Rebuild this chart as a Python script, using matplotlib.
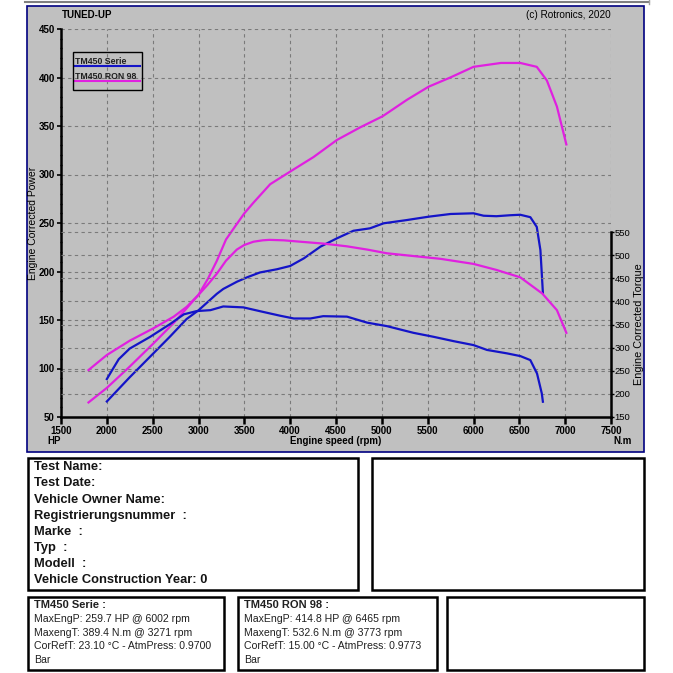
import matplotlib
matplotlib.use("Agg")
import matplotlib.pyplot as plt
from matplotlib.patches import Rectangle
from matplotlib.lines import Line2D
from matplotlib.ticker import MultipleLocator

plt.rcParams['font.family'] = ['Liberation Sans', 'DejaVu Sans']

# ---------------- data ----------------
serie_power_rpm = [2000, 2250, 2470, 2690, 2870, 3000, 3200, 3270, 3420, 3530, 3670, 3855, 4000,
                   4150, 4330, 4510, 4690, 4870, 5020, 5270, 5510, 5750, 6000, 6110, 6250,
                   6400, 6510, 6620, 6690, 6730, 6757]
serie_power_hp = [66, 91, 112, 133, 151, 160, 177, 182, 189.5, 194, 199, 202.3, 205.7,
                  213.6, 225.6, 234.2, 242, 244.5, 249.7, 253, 256.5, 259.3, 260, 257.5, 257,
                  258, 258.5, 256, 246, 222, 178]

serie_torque_rpm = [2000, 2060, 2130, 2250, 2470, 2690, 2840, 2980, 3130, 3270, 3490, 3710, 3890,
                    4040, 4220, 4360, 4620, 4840, 5055, 5345, 5564, 5783, 6000, 6147, 6365,
                    6511, 6620, 6693, 6745, 6757]
serie_torque_nm = [232, 252, 275, 298, 323, 351, 372, 379, 381, 389, 387, 377, 369,
                   363, 363, 368, 367, 354, 346.5, 332, 323.4, 314, 305.5, 295, 287.6,
                   281.7, 273, 244, 201, 183]

ron_power_rpm = [1800, 2000, 2250, 2510, 2730, 2870, 3000, 3100, 3200, 3300, 3418, 3500, 3600,
                 3782, 4000, 4255, 4510, 4764, 5008, 5274, 5510, 5747, 6000, 6300, 6510, 6690,
                 6800, 6910, 7013]
ron_power_hp = [65, 80, 102, 126, 147, 162, 176, 192, 211, 233, 249, 260, 271,
                290, 303, 318, 335.6, 348.6, 360, 377, 390.5, 400, 411, 415, 415, 411,
                397, 370, 331]

ron_torque_rpm = [1800, 2000, 2250, 2510, 2730, 2870, 3000, 3100, 3200, 3300, 3418, 3500, 3600,
                  3700, 3773, 3930, 4110, 4360, 4620, 4840, 5055, 5345, 5640, 6000, 6250, 6510,
                  6750, 6910, 7013]
ron_torque_nm = [251.5, 284, 315, 342, 367, 388, 414, 436, 460, 488, 512, 522, 529,
                 532, 533, 532, 529, 525, 519, 512, 504, 498, 492, 481, 468, 452,
                 417, 381, 332]

series_names = ["TM450 Serie", "TM450 RON 98"]
x_ticks = [1500, 2000, 2500, 3000, 3500, 4000, 4500, 5000, 5500, 6000, 6500, 7000, 7500]
hp_ticks = [50, 100, 150, 200, 250, 300, 350, 400, 450]
nm_ticks = [150, 200, 250, 300, 350, 400, 450, 500, 550]

info_lines = ["Test Name:", "Test Date:", "Vehicle Owner Name:", "Registrierungsnummer  :",
              "Marke  :", "Typ  :", "Modell  :", "Vehicle Construction Year: 0"]
serie_info = ["TM450 Serie :", "MaxEngP: 259.7 HP @ 6002 rpm", "MaxengT: 389.4 N.m @ 3271 rpm",
              "CorRefT: 23.10 \u00b0C - AtmPress: 0.9700", "Bar"]
ron_info = ["TM450 RON 98 :", "MaxEngP: 414.8 HP @ 6465 rpm", "MaxengT: 532.6 N.m @ 3773 rpm",
            "CorRefT: 15.00 \u00b0C - AtmPress: 0.9773", "Bar"]

BLUE = '#1414C8'
MAG = '#E020E0'
W = H = 673.0


def fx(x):
    return x / W


def fy(y):
    return 1 - y / H


fig = plt.figure(figsize=(6.73, 6.73), dpi=100)
fig.patch.set_facecolor('white')

# top thin gray line
fig.add_artist(Line2D([fx(25), fx(649)], [fy(1.5), fy(1.5)], color='#808080', lw=1.5))
fig.add_artist(Line2D([fx(648.5), fx(648.5)], [fy(0), fy(4)], color='#A0A0A0', lw=1))

# chart panel
fig.add_artist(Rectangle((fx(27), fy(452)), fx(644) - fx(27), fy(6) - fy(452),
                         facecolor='#C0C0C0', edgecolor='#000080', lw=1.2, zorder=0))

ax = fig.add_axes([fx(61), fy(417), fx(611) - fx(61), fy(29) - fy(417)])
ax.set_facecolor('none')
ax.set_xlim(1500, 7500)
ax.set_ylim(50, 450)
ax2 = ax.twinx()
nm_top = 150 + 388 * 400 / 185.0
ax2.set_ylim(150, nm_top)
ax2.set_facecolor('none')

# grids
for v in hp_ticks[1:]:
    ax.axhline(v, color='#7a7a7a', lw=0.8, ls=(0, (3, 3)), zorder=1)
for v in nm_ticks[1:]:
    ax2.axhline(v, color='#7a7a7a', lw=0.8, ls=(0, (3, 3)), zorder=1)
for v in x_ticks[1:]:
    ax.axvline(v, color='#7a7a7a', lw=0.8, ls=(0, (3, 3)), zorder=1)

# curves
ax.plot(serie_power_rpm, serie_power_hp, color=BLUE, lw=1.6, zorder=3)
ax.plot(ron_power_rpm, ron_power_hp, color=MAG, lw=1.6, zorder=3)
ax2.plot(serie_torque_rpm, serie_torque_nm, color=BLUE, lw=1.6, zorder=3)
ax2.plot(ron_torque_rpm, ron_torque_nm, color=MAG, lw=1.6, zorder=3)

# spines
for s in ['top', 'right']:
    ax.spines[s].set_visible(False)
for s in ['top', 'left', 'bottom']:
    ax2.spines[s].set_visible(False)
ax.spines['left'].set_linewidth(1.8)
ax.spines['bottom'].set_linewidth(1.8)
ax2.spines['right'].set_linewidth(1.8)
ax2.spines['right'].set_bounds(150, 550)

ax.set_xticks(x_ticks)
ax.set_xticklabels([str(v) for v in x_ticks], fontsize=7, fontweight='bold')
ax.tick_params(axis='x', direction='out', length=5, width=1.8, pad=1.5)
ax.set_yticks(hp_ticks)
ax.set_yticklabels([str(v) for v in hp_ticks], fontsize=7, fontweight='bold')
ax.tick_params(axis='y', direction='out', length=3, width=1.2, pad=1.5)
ax.yaxis.set_minor_locator(MultipleLocator(10))
ax.tick_params(axis='y', which='minor', direction='inout', length=2, width=1)

ax2.set_yticks(nm_ticks)
ax2.set_yticklabels([str(v) for v in nm_ticks], fontsize=6.8)
ax2.tick_params(axis='y', direction='out', length=2, width=1, pad=0.5)

# labels
fig.text(fx(33.5), fy(223), "Engine Corrected Power", rotation=90, ha='center', va='center',
         fontsize=7.5)
fig.text(fx(639), fy(324), "Engine Corrected Torque", rotation=90, ha='center', va='center',
         fontsize=7.8)
fig.text(fx(336), fy(441), "Engine speed (rpm)", ha='center', va='center', fontsize=7,
         fontweight='bold')
fig.text(fx(47), fy(441), "HP", ha='left', va='center', fontsize=7, fontweight='bold')
fig.text(fx(613), fy(441.5), "N.m", ha='left', va='center', fontsize=7, fontweight='bold')
fig.text(fx(62), fy(15.5), "TUNED-UP", ha='left', va='center', fontsize=7, fontweight='bold')
fig.text(fx(611), fy(15.5), "(c) Rotronics, 2020", ha='right', va='center', fontsize=7.2)

# legend box
fig.add_artist(Rectangle((fx(72.7), fy(90)), fx(141.7) - fx(72.7), fy(52.3) - fy(90),
                         facecolor='none', edgecolor='black', lw=1.0, zorder=5))
for i, (name, col) in enumerate(zip(series_names, [BLUE, MAG])):
    base = 63.5 + i * 15.5
    fig.text(fx(75), fy(base), name, ha='left', va='baseline', fontsize=6.3, fontweight='bold',
             color='#202020')
    fig.add_artist(Line2D([fx(75), fx(140)], [fy(base + 2.3), fy(base + 2.3)], color=col, lw=1.5))


# bottom boxes
def box(x0, y0, x1, y1):
    fig.add_artist(Rectangle((fx(x0), fy(y1)), fx(x1) - fx(x0), fy(y0) - fy(y1),
                             facecolor='white', edgecolor='black', lw=1.8))


box(28.3, 458.3, 358.3, 590)
box(372, 458.3, 644, 590)
box(28.3, 597.3, 224, 670)
box(238.3, 597.3, 436.7, 670)
box(447, 597.3, 644, 670)

for i, line in enumerate(info_lines):
    fig.text(fx(34), fy(467.3 + i * 16.15), line, ha='left', va='center', fontsize=9.3,
             fontweight='bold', color='#151515')

for x0, lines in [(34, serie_info), (244, ron_info)]:
    for i, line in enumerate(lines):
        fig.text(fx(x0), fy(605 + i * 13.75), line, ha='left', va='center',
                 fontsize=8.0 if i == 0 else 7.6,
                 fontweight='bold' if i == 0 else 'normal', color='#202020')

fig.savefig("out.png", dpi=100)
